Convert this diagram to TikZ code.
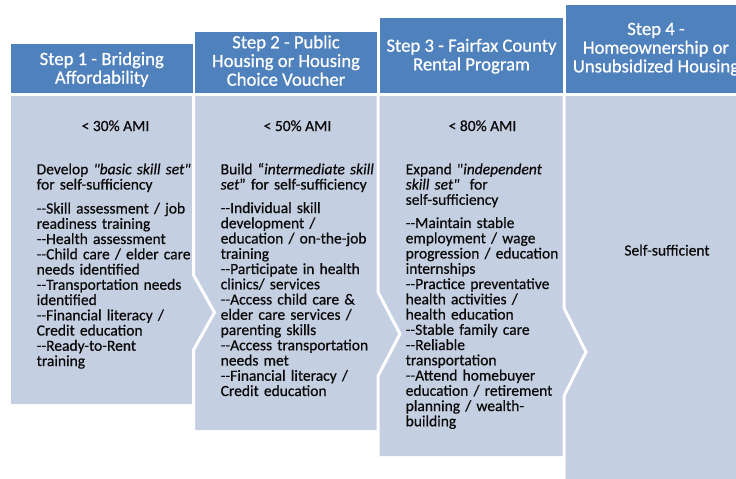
\documentclass[tikz,border=0pt]{standalone}
\usepackage{fontspec}
\setmainfont{Carlito}[Ligatures=TeXOff, FakeBold=0.6]
\definecolor{hdrblue}{RGB}{79,129,189}
\definecolor{panelfill}{RGB}{197,207,226}
\definecolor{ink}{RGB}{10,10,10}
% two plain hyphens
\newcommand\dsh{-\kern0pt-}
% keep the line pitch fixed even when lines are tighter than the glyphs
\newcommand\fixedpitch{\lineskiplimit=-20pt\relax\lineskip=0pt\relax}
\tikzset{
  hdr/.style={fill=hdrblue},
  panel/.style={fill=panelfill},
  gapline/.style={draw=white, line width=3pt, line join=miter},
  % multi-line titles: the base anchor sits on the last line
  hdrtext/.style={text=white, align=center, inner sep=0pt, anchor=base,
    font=\fontsize{18.7}{18.7}\selectfont\fixedpitch},
  % fixed-width blocks: the base anchor sits on the first line
  bodytext/.style={text=ink, text width=175pt, align=left, inner sep=0pt, anchor=base west,
    font=\fontsize{15.5}{15.25}\selectfont\fixedpitch},
  amitext/.style={text=ink, inner sep=0pt, anchor=base,
    font=\fontsize{15.5}{15.25}\selectfont},
}
\begin{document}
\fixedpitch
\begin{tikzpicture}[x=1pt,y=-1pt]
\useasboundingbox (0,0) rectangle (736,479);
\clip (0,0) rectangle (736,479);

% header bars
\path[hdr] (11,44) rectangle (192.5,93);
\path[hdr] (195,32) rectangle (377,93);
\path[hdr] (380,18) rectangle (563,93);
\path[hdr] (565.5,5) rectangle (747,93);

% panels with chevron joints
\path[panel] (11,96) -- (193.5,96) -- (193.5,275) -- (214.5,312.5) -- (193.5,350)
  -- (193.5,404) -- (11,404) -- cycle;
\path[panel] (193.5,96) -- (378,96) -- (378,292) -- (400,334) -- (378,376) -- (378,430)
  -- (193.5,430) -- (193.5,350) -- (214.5,312.5) -- (193.5,275) -- cycle;
\path[panel] (378,96) -- (564,96) -- (564,308) -- (586,352) -- (564,396) -- (564,456)
  -- (378,456) -- (378,376) -- (400,334) -- (378,292) -- cycle;
\path[panel] (564,96) -- (740,96) -- (740,480) -- (564,480) -- (564,396) -- (586,352)
  -- (564,308) -- cycle;

% white joints between the panels
\draw[gapline] (193.5,96) -- (193.5,275) -- (214.5,312.5) -- (193.5,350) -- (193.5,430);
\draw[gapline] (378,96) -- (378,292) -- (400,334) -- (378,376) -- (378,456);
\draw[gapline] (564,96) -- (564,308) -- (586,352) -- (564,396) -- (564,480);

% header titles
\node[hdrtext] (h1) at (101.75,83.7) {Step 1 - Bridging\\Affordability};
\node[hdrtext] (h2) at (286,85.7) {Step 2 - Public\\Housing or Housing\\Choice Voucher};
\node[hdrtext] (h3) at (471.5,70.4) {Step 3 - Fairfax County\\Rental Program};
\node[hdrtext] (h4) at (656,72.4) {Step 4 -\\Homeownership or\\Unsubsidized Housing};

% income limits
\node[amitext] (a1) at (115.5,131) {< 30\% AMI};
\node[amitext] (a2) at (297.5,131) {< 50\% AMI};
\node[amitext] (a3) at (482.5,131) {< 80\% AMI};

% step 1
\node[bodytext] (i1) at (36.5,174.3) {Develop \textit{"basic skill set"}\\for self-sufficiency};
\node[bodytext] (l1) at (36.5,213.5) {\dsh Skill assessment / job\\
readiness training\\
\dsh Health assessment\\
\dsh Child care / elder care\\
needs identified\\
\dsh Transportation needs\\
identified\\
\dsh Financial literacy /\\
Credit education\\
\dsh Ready-to-Rent\\
training};

% step 2
\node[bodytext] (i2) at (220.5,174.3) {Build “\textit{intermediate skill}\\\textit{set}” for self-sufficiency};
\node[bodytext] (l2) at (220.5,213) {\dsh Individual skill\\
development /\\
education / on-the-job\\
training\\
\dsh Participate in health\\
clinics/ services\\
\dsh Access child care \&\\
elder care services /\\
parenting skills\\
\dsh Access transportation\\
needs met\\
\dsh Financial literacy /\\
Credit education};

% step 3
\node[bodytext] (i3) at (405.5,174.3) {Expand "\textit{independent}\\\textit{skill set"}\ \ for\\self-sufficiency};
\node[bodytext] (l3) at (405.5,228) {\dsh Maintain stable\\
employment / wage\\
progression / education\\
internships\\
\dsh Practice preventative\\
health activities /\\
health education\\
\dsh Stable family care\\
\dsh Reliable\\
transportation\\
\dsh Attend homebuyer\\
education / retirement\\
planning / wealth-\\
building};

% step 4
\node[amitext] (s4) at (667,255.5) {Self-sufficient};
\end{tikzpicture}
\end{document}
